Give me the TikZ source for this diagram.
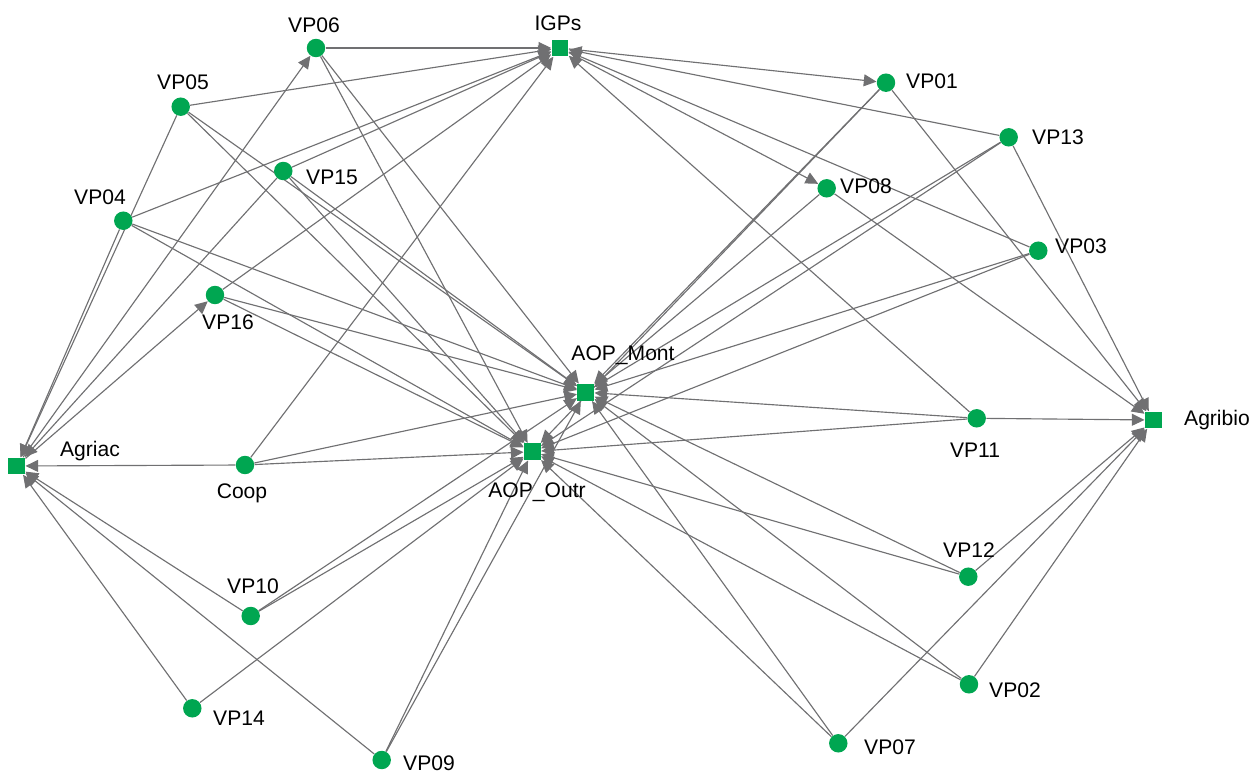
\documentclass[tikz,border=0pt]{standalone}
\usepackage{fontspec}
\setmainfont{Liberation Sans}
\usetikzlibrary{arrows.meta,backgrounds}
\definecolor{ngreen}{RGB}{0,166,81}
\definecolor{egray}{RGB}{112,112,114}
\begin{document}
\begin{tikzpicture}[x=0.02cm,y=-0.02cm,
  vp/.style={circle,fill=ngreen,inner sep=0pt,minimum size=10.5pt},
  hub/.style={rectangle,fill=ngreen,inner sep=0pt,minimum size=9.6pt},
  lbl/.style={inner sep=0pt,font=\fontsize{12}{14}\selectfont},
  edge/.style={draw=egray,line width=0.65pt,-{Triangle[length=7.2pt,width=6.8pt]}}]
\useasboundingbox (0,0) rectangle (1252,773);
% nodes
\node[hub] (IGPs) at (560,48) {};
\node[hub] (AOPMont) at (585.7,392.3) {};
\node[hub] (AOPOutr) at (532.3,451.7) {};
\node[hub] (Agriac) at (16.7,466) {};
\node[hub] (Agribio) at (1153.3,420) {};
\node[vp] (VP01) at (886,82.7) {};
\node[vp] (VP02) at (969,684.3) {};
\node[vp] (VP03) at (1038.3,250.7) {};
\node[vp] (VP04) at (123.3,220.7) {};
\node[vp] (VP05) at (180.7,106.7) {};
\node[vp] (VP06) at (316,48) {};
\node[vp] (VP07) at (838.3,743.3) {};
\node[vp] (VP08) at (826.7,188.3) {};
\node[vp] (VP09) at (381.7,760) {};
\node[vp] (VP10) at (250.7,616) {};
\node[vp] (VP11) at (976.7,418.3) {};
\node[vp] (VP12) at (968.3,576.7) {};
\node[vp] (VP13) at (1008.7,137.3) {};
\node[vp] (VP14) at (192.3,708.3) {};
\node[vp] (VP15) at (283.3,171) {};
\node[vp] (VP16) at (215,295) {};
\node[vp] (Coop) at (245,465) {};
% labels
\node[lbl] (lIGPs) at (558,23) {IGPs};
\node[lbl] (lAOPMont) at (623,355) {AOP\_Mont};
\node[lbl] (lAOPOutr) at (537,492) {AOP\_Outr};
\node[lbl] (lAgriac) at (90,451) {Agriac};
\node[lbl] (lAgribio) at (1217,420) {Agribio};
\node[lbl] (lVP01) at (932,81) {VP01};
\node[lbl] (lVP02) at (1015,690) {VP02};
\node[lbl] (lVP03) at (1081,246) {VP03};
\node[lbl] (lVP04) at (100,197) {VP04};
\node[lbl] (lVP05) at (183,82) {VP05};
\node[lbl] (lVP06) at (314,25) {VP06};
\node[lbl] (lVP07) at (890,747) {VP07};
\node[lbl] (lVP08) at (866,186) {VP08};
\node[lbl] (lVP09) at (429,763) {VP09};
\node[lbl] (lVP10) at (253,586) {VP10};
\node[lbl] (lVP11) at (975,450) {VP11};
\node[lbl] (lVP12) at (969,550) {VP12};
\node[lbl] (lVP13) at (1058,137) {VP13};
\node[lbl] (lVP14) at (239,718) {VP14};
\node[lbl] (lVP15) at (332,177) {VP15};
\node[lbl] (lVP16) at (228,322) {VP16};
\node[lbl] (lCoop) at (242,493) {Coop};
% edges
\begin{pgfonlayer}{background}
\foreach \a in {VP06,VP05,VP04,VP15,VP16,Coop,VP13,VP03,VP11}
  \draw[edge] (\a) -- (IGPs);
\foreach \b in {VP01,VP08}
  \draw[edge] (IGPs) -- (\b);
\foreach \a in {VP04,VP05,VP15,Coop,VP10,VP14,VP09}
  \draw[edge] (\a) -- (Agriac);
\foreach \b in {VP06,VP16}
  \draw[edge] (Agriac) -- (\b);
\foreach \a in {VP01,VP13,VP08,VP11,VP12,VP02,VP07}
  \draw[edge] (\a) -- (Agribio);
\foreach \a in {VP06,VP05,VP04,VP15,VP16,Coop,VP10,VP09,VP01,VP13,VP08,VP03,VP11,VP12,VP02,VP07}
  \draw[edge] (\a) -- (AOPMont);
\foreach \a in {VP06,VP05,VP04,VP15,VP16,Coop,VP10,VP14,VP09,VP01,VP13,VP03,VP11,VP12,VP02,VP07}
  \draw[edge] (\a) -- (AOPOutr);
\end{pgfonlayer}
\end{tikzpicture}
\end{document}
